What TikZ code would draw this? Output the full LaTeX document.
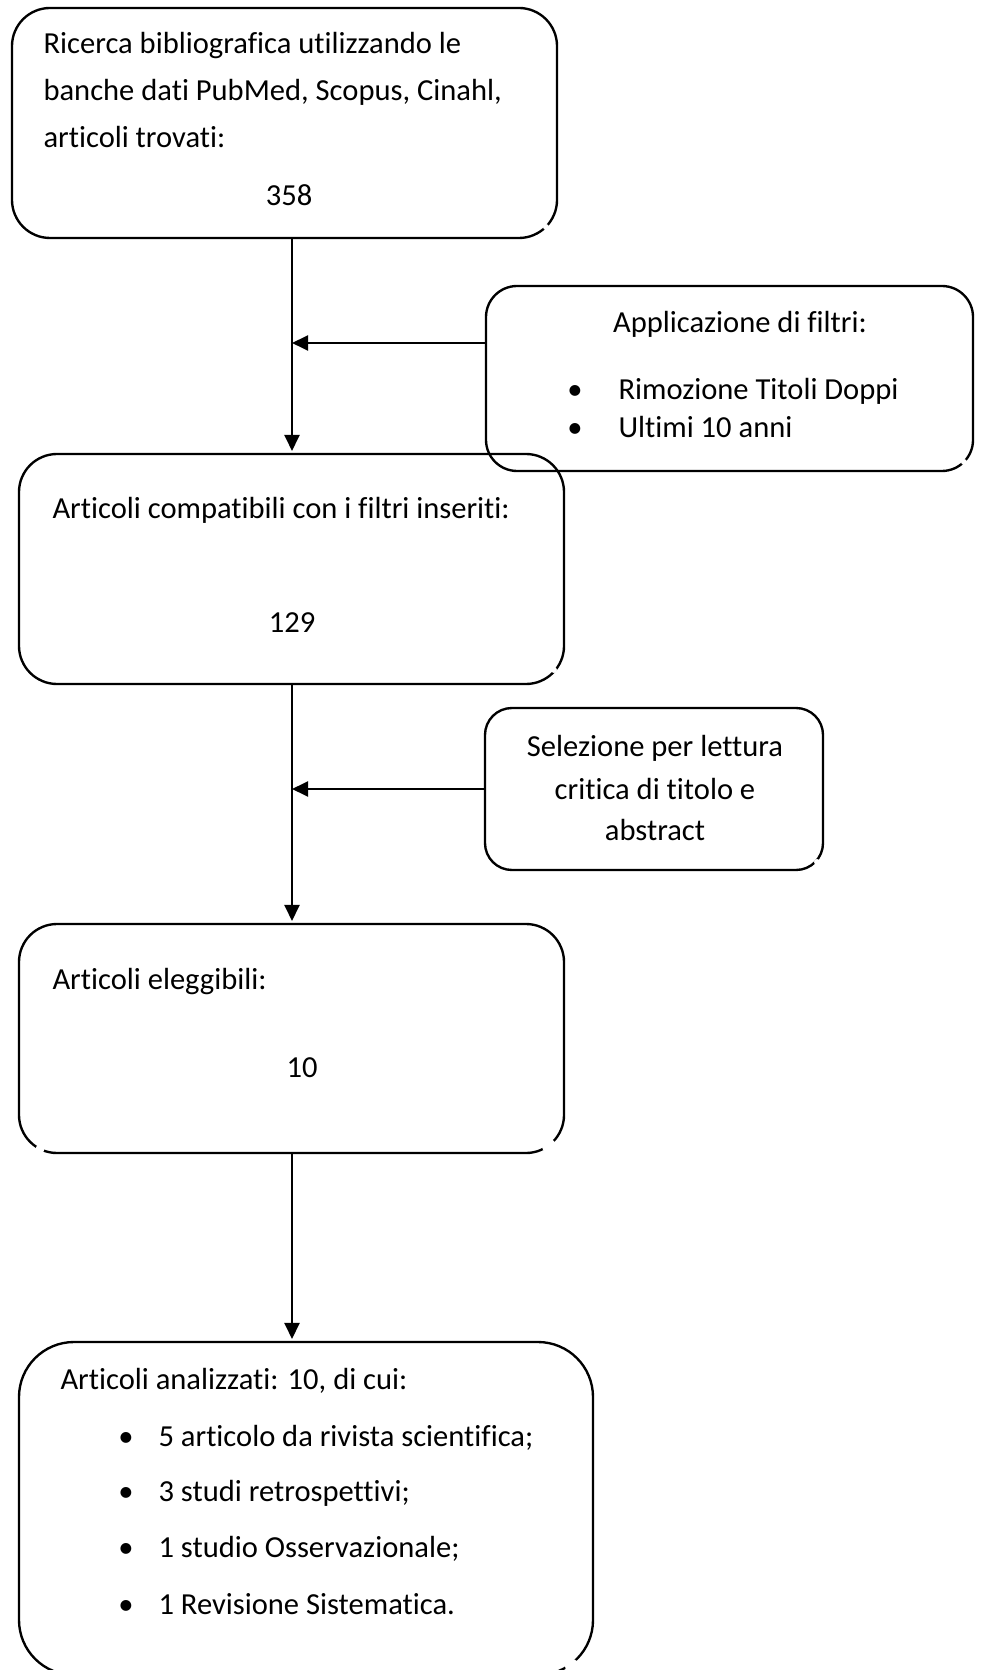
\documentclass[tikz,border=0pt]{standalone}
\usepackage{fontspec}
\setmainfont{Carlito}[Ligatures=NoCommon]
\usetikzlibrary{arrows.meta,calc,fit}
\newcommand\rbox[6]{%
  \coordinate (#1-a) at (#2,#3);
  \coordinate (#1-b) at (#4,#5);
  \node[boxnode,fit=(#1-a)(#1-b)] (#1) {};
  \draw[outline,rounded corners=#6] (#1.north west) rectangle (#1.south east);}
\begin{document}
\begin{tikzpicture}[x=0.36pt,y=-0.36pt,
  boxnode/.style={draw=none,inner sep=0pt,outer sep=0pt},
  outline/.style={draw=black,line width=0.85pt},
  conn/.style={draw=black,line width=0.85pt,-{Triangle[length=5.8pt,width=5.4pt]}},
  txt/.style={inner sep=0pt,anchor=base west,font=\fontsize{11}{13.4}\selectfont},
  ctxt/.style={inner sep=0pt,anchor=base,font=\fontsize{11}{13.4}\selectfont},
  gap/.style={fill=white,draw=none}]
\useasboundingbox (0,0) rectangle (981,1670);
\clip (0,0) rectangle (981,1670);
\fill[white] (0,0) rectangle (981,1670);

% boxes
\rbox{b1}{12}{8}{557}{238}{13.7pt}
\rbox{bA}{486}{286}{973}{471}{11.2pt}
\rbox{b2}{19}{454}{564}{684}{13.7pt}
\rbox{bS}{485}{708}{823}{870}{9.7pt}
\rbox{b3}{19}{924}{564}{1153}{13.7pt}
\rbox{b4}{19}{1342}{593}{1675}{19.8pt}

% small breaks in the corner outlines
\fill[gap] (546,227) circle (3);
\fill[gap] (964,462) circle (3);
\fill[gap] (554,670) circle (3);
\fill[gap] (817,862) circle (3);
\fill[gap] (40,1149) circle (4.5);
\fill[gap] (549,1146) circle (7);
\fill[gap] (572,1666) circle (7);

% spine
\coordinate (spine) at (292,0);
\coordinate (fA) at (486,343);
\coordinate (fS) at (485,789);

% connectors
\draw[conn] (b1.south -| spine) -- ($(b2.north -| spine)+(0,-3)$);
\draw[conn] (fA) -- (fA -| spine);
\draw[conn] (b2.south -| spine) -- ($(b3.north -| spine)+(0,-3)$);
\draw[conn] (fS) -- (fS -| spine);
\draw[conn] (b3.south -| spine) -- ($(b4.north -| spine)+(0,-3)$);

% texts box 1
\node[txt] (t1a) at (43,54) {Ricerca bibliografica utilizzando le};
\node[txt] (t1b) at (43,101) {banche dati PubMed, Scopus, Cinahl,};
\node[txt] (t1c) at (43,148) {articoli trovati:};
\node[ctxt] (t1d) at (289,206) {358};

% box A
\node[ctxt] (tAa) at (740,333) {Applicazione di filtri:};
\node[ctxt] (tAb) at (575,400) {•};
\node[txt] (tAc) at (618,400) {Rimozione Titoli Doppi};
\node[ctxt] (tAd) at (575,438) {•};
\node[txt] (tAe) at (618,438) {Ultimi 10 anni};

% box 2
\node[txt] (t2a) at (52,519) {Articoli compatibili con i filtri inseriti:};
\node[ctxt] (t2b) at (292,633) {129};

% box S
\node[ctxt] (tSa) at (655,756) {Selezione per lettura};
\node[ctxt] (tSb) at (655,799) {critica di titolo e};
\node[ctxt] (tSc) at (655,840) {abstract};

% box 3
\node[txt] (t3a) at (52,989) {Articoli eleggibili:};
\node[ctxt] (t3b) at (302,1077) {10};

% box 4
\node[txt] (t4a) at (60,1389) {Articoli analizzati: 10, di cui:};
\node[ctxt] (t4b) at (126,1446) {•};
\node[txt] (t4c) at (158,1446) {5 articolo da rivista scientifica;};
\node[ctxt] (t4d) at (126,1501) {•};
\node[txt] (t4e) at (158,1501) {3 studi retrospettivi;};
\node[ctxt] (t4f) at (126,1557) {•};
\node[txt] (t4g) at (158,1557) {1 studio Osservazionale;};
\node[ctxt] (t4h) at (126,1614) {•};
\node[txt] (t4i) at (158,1614) {1 Revisione Sistematica.};
\end{tikzpicture}
\end{document}
